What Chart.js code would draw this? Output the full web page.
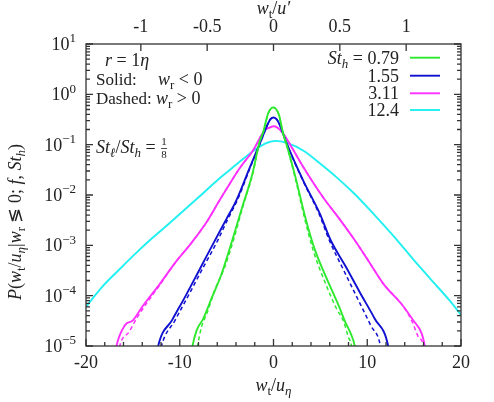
<!DOCTYPE html>
<html>
<head>
<meta charset="utf-8">
<script src="https://cdn.jsdelivr.net/npm/chart.js@4.4.1/dist/chart.umd.min.js"></script>
<style>
  html, body { margin: 0; padding: 0; background: #fff; }
  #wrap { width: 494px; height: 402px; }
</style>
</head>
<body>
<div id="wrap"><canvas id="pdfChart"></canvas></div>
<script>
// values
const stLabels = ['0.79', '1.55', '3.11', '12.4'];
const stColors = ['#2ee82e', '#1010d0', '#ff30ff', '#20f0f0'];

const greenSolidX = [-8.9, -8.64, -8.2, -7.5, -6.6, -5.6, -4.4, -3.3, -2.24, -1.5, -1.1, -0.58, -0.25, 0, 0.3, 0.6, 1.03, 1.4, 2.35, 3.4, 4.4, 5.75, 7.0, 7.6, 8.3, 8.67, 8.9];
const greenSolidP = [5e-6, 1e-5, 2.04e-5, 3.47e-5, 8.91e-5, 2.51e-4, 1.26e-3, 6.03e-3, 2.69e-2, 0.112, 0.178, 0.417, 0.525, 0.55, 0.501, 0.38, 0.166, 0.1, 0.0224, 3.55e-3, 8.32e-4, 2.04e-4, 6.03e-5, 3.16e-5, 1.66e-5, 1e-5, 5e-6];
const greenDashX = [-8.35, -8.1, -7.68, -7.1, -6.26, -5.2, -4.2, -3.25, -2.2, -1.48, -1.08, -0.57, -0.25, 0, 0.3, 0.6, 1.0, 1.38, 2.3, 3.3, 4.2, 5.4, 6.7, 7.5, 7.96, 8.32, 8.5];
const greenDashP = [5e-6, 1e-5, 2.4e-5, 4.47e-5, 1.29e-4, 3.72e-4, 1.41e-3, 6.03e-3, 2.69e-2, 0.112, 0.178, 0.417, 0.525, 0.55, 0.501, 0.38, 0.166, 0.1, 0.0224, 3.55e-3, 8.32e-4, 2.04e-4, 5.62e-5, 3.02e-5, 1.55e-5, 1e-5, 5e-6];

const blueSolidX = [-12.55, -12.3, -10.8, -9.3, -7.8, -6.3, -5.0, -3.95, -2.5, -1.46, -0.58, -0.3, 0, 0.3, 0.6, 1.42, 3.16, 4.94, 6.1, 7.7, 9.2, 10.8, 12.23, 12.45];
const blueSolidP = [5e-6, 1e-5, 3.31e-5, 1.05e-4, 3.55e-4, 1.2e-3, 3.39e-3, 7.94e-3, 3.63e-2, 0.105, 0.263, 0.324, 0.347, 0.324, 0.263, 0.105, 0.0195, 4.27e-3, 1.26e-3, 3.8e-4, 1.17e-4, 3.47e-5, 1e-5, 5e-6];
const blueDashX = [-12.25, -11.95, -10.5, -9.0, -7.5, -6.0, -4.85, -3.85, -2.45, -1.44, -0.58, -0.3, 0, 0.3, 0.6, 1.4, 3.12, 4.85, 5.95, 7.5, 9.0, 10.4, 11.4, 11.6];
const blueDashP = [5e-6, 1e-5, 3.24e-5, 1.07e-4, 3.63e-4, 1.2e-3, 3.39e-3, 7.94e-3, 3.63e-2, 0.105, 0.263, 0.324, 0.347, 0.324, 0.263, 0.105, 0.0195, 4.27e-3, 1.26e-3, 3.16e-4, 8.5e-5, 2.5e-5, 1e-5, 5e-6];

const magentaSolidX = [-17.0, -16.75, -15.86, -15.0, -14.0, -12.1, -10.5, -8.75, -7.0, -5.8, -4.85, -3.5, -2.17, -0.93, -0.4, 0, 0.4, 1.03, 2.0, 3.16, 5.3, 6.93, 8.67, 10.2, 11.7, 13.8, 14.9, 15.8, 16.14, 16.4];
const magentaSolidP = [5e-6, 1e-5, 2.57e-5, 3.24e-5, 6.03e-5, 1.74e-4, 4.47e-4, 1.12e-3, 3.16e-3, 7.59e-3, 1.48e-2, 3.63e-2, 7.76e-2, 0.195, 0.219, 0.232, 0.219, 0.166, 0.0851, 0.0363, 8.91e-3, 3.55e-3, 1.26e-3, 4.68e-4, 1.74e-4, 6.31e-5, 3.24e-5, 1.78e-5, 1e-5, 5e-6];
const magentaDashX = [-16.65, -16.4, -15.4, -14.5, -12.1, -10.5, -8.75, -7.0, -5.8, -4.85, -3.5, -2.17, -0.93, -0.4, 0, 0.4, 1.03, 2.0, 3.16, 5.3, 6.93, 8.67, 10.2, 11.7, 13.8, 14.8, 15.4, 16.0, 16.2];
const magentaDashP = [5e-6, 1e-5, 1.91e-5, 3.8e-5, 1.66e-4, 4.47e-4, 1.12e-3, 3.16e-3, 7.59e-3, 1.48e-2, 3.63e-2, 7.76e-2, 0.195, 0.219, 0.232, 0.219, 0.166, 0.0851, 0.0363, 8.91e-3, 3.55e-3, 1.26e-3, 4.68e-4, 1.74e-4, 6.31e-5, 3.02e-5, 1.58e-5, 1e-5, 5e-6];

const cyanX = [-20, -18.3, -16.5, -14.7, -12.9, -11.1, -9.4, -7.6, -5.9, -4.0, -2.2, -0.9, 0.2, 1.5, 3.2, 5.0, 6.8, 8.6, 10.3, 12.0, 13.2, 15.0, 16.8, 18.8, 20];
const cyanP = [6.03e-5, 1.48e-4, 3.24e-4, 6.92e-4, 1.41e-3, 2.75e-3, 5.25e-3, 1.05e-2, 2.04e-2, 3.98e-2, 7.41e-2, 0.105, 0.119, 0.107, 0.0759, 0.0417, 0.0219, 0.0107, 5.01e-3, 2.24e-3, 1.26e-3, 5.01e-4, 2.09e-4, 7.94e-5, 4.17e-5];

const xTicks = [-20, -10, 0, 10, 20];
const topTicks = [-1, -0.5, 0, 0.5, 1];
const yDecades = [-5, -4, -3, -2, -1, 0, 1];
const uPrimeOverUEta = 14.15;   // ratio between bottom and top axes

const FONT = '"Liberation Serif", "DejaVu Serif", serif';
const INK = '#222';

function pts(xs, ps) {
  return xs.map((x, i) => ({ x, y: ps[i] }));
}

function line(xs, ps, color, dashed) {
  return {
    data: pts(xs, ps),
    borderColor: color,
    borderWidth: dashed ? 1.5 : 1.9,
    borderDash: dashed ? [4, 3] : [],
    pointRadius: 0,
    fill: false,
    cubicInterpolationMode: 'monotone',
    clip: 0,
    xAxisID: 'x',
    yAxisID: 'y'
  };
}

// text with italic / subscript / superscript pieces
function rich(ctx, parts, x, y, align, size) {
  const items = parts.map(([t, s = '']) => {
    const small = s.includes('b') || s.includes('p');
    const fs = small ? Math.round(size * 0.72) : size;
    ctx.font = (s.includes('i') ? 'italic ' : '') + fs + 'px ' + FONT;
    return {
      t, font: ctx.font, w: ctx.measureText(t).width,
      dy: s.includes('b') ? size * 0.22 : s.includes('p') ? -size * 0.42 : 0
    };
  });
  const total = items.reduce((a, b) => a + b.w, 0);
  let cx = align === 'right' ? x - total : align === 'center' ? x - total / 2 : x;
  ctx.textAlign = 'left';
  ctx.textBaseline = 'alphabetic';
  items.forEach(it => {
    ctx.font = it.font;
    ctx.fillText(it.t, cx, y + it.dy);
    cx += it.w;
  });
  return total;
}

const decor = {
  id: 'decor',
  afterDraw(chart) {
    const { ctx, chartArea: a, scales } = chart;
    const xs = scales.x, ys = scales.y, xt = scales.xTop;
    ctx.save();
    ctx.fillStyle = INK;
    ctx.strokeStyle = '#333';
    ctx.lineWidth = 1.3;

    // frame
    ctx.strokeRect(a.left, a.top, a.right - a.left, a.bottom - a.top);

    // x ticks (bottom), inward
    ctx.beginPath();
    for (let v = xs.min; v <= xs.max; v += 2) {
      const px = xs.getPixelForValue(v);
      const len = xTicks.includes(v) ? 7 : 4;
      ctx.moveTo(px, a.bottom); ctx.lineTo(px, a.bottom - len);
    }
    topTicks.forEach(v => {
      const px = xt.getPixelForValue(v);
      ctx.moveTo(px, a.top); ctx.lineTo(px, a.top + 7);
    });
    // y ticks left and right
    yDecades.forEach(d => {
      for (let k = 1; k <= 9; k++) {
        const v = k * Math.pow(10, d);
        if (v < ys.min || v > ys.max) continue;
        const py = ys.getPixelForValue(v);
        const len = k === 1 ? 7 : 4;
        ctx.moveTo(a.left, py); ctx.lineTo(a.left + len, py);
        ctx.moveTo(a.right, py); ctx.lineTo(a.right - len, py);
      }
    });
    ctx.stroke();

    const fs = 18;
    // tick labels
    xTicks.forEach(v => rich(ctx, [[String(v)]], xs.getPixelForValue(v), a.bottom + 22, 'center', fs));
    topTicks.forEach(v => rich(ctx, [[String(v)]], xt.getPixelForValue(v), a.top - 12, 'center', fs));
    yDecades.forEach(d => {
      const py = ys.getPixelForValue(Math.pow(10, d));
      rich(ctx, [['10'], [String(d).replace('-', '\u2212'), 'p']], 76, py + 6, 'right', fs);
    });

    // axis titles
    rich(ctx, [['w', 'i'], ['t', 'b'], ['/'], ['u', 'i'], ['\u03b7', 'ib']], xs.getPixelForValue(0), 391, 'center', fs);
    rich(ctx, [['w', 'i'], ['t', 'b'], ['/'], ['u\u2032', 'i']], xs.getPixelForValue(0), 14, 'center', fs);
    ctx.save();
    ctx.translate(21, 222);
    ctx.rotate(-Math.PI / 2);
    rich(ctx, [['P', 'i'], ['('], ['w', 'i'], ['t', 'b'], ['/'], ['u', 'i'], ['\u03b7', 'ib'], ['|'], ['w', 'i'], ['r', 'b'],
      [' \u2276 0; '], ['f', 'i'], [', '], ['St', 'i'], ['h', 'ib'], [')']], 0, 0, 'center', fs);
    ctx.restore();

    // legend
    const rows = [57.7, 75.7, 93.3, 110];
    stLabels.forEach((lab, i) => {
      const parts = i === 0 ? [['St', 'i'], ['h', 'ib'], [' = ' + lab]] : [[lab]];
      rich(ctx, parts, 399, rows[i] + 6, 'right', fs);
      ctx.strokeStyle = stColors[i];
      ctx.lineWidth = 1.9;
      ctx.beginPath();
      ctx.moveTo(410, rows[i]); ctx.lineTo(440, rows[i]);
      ctx.stroke();
    });

    // annotations
    rich(ctx, [['r', 'i'], [' = 1'], ['\u03b7', 'i']], 105, 66, 'left', fs);
    rich(ctx, [['Solid:']], 96, 85, 'left', 17);
    rich(ctx, [['w', 'i'], ['r', 'b'], [' < 0']], 158, 85, 'left', fs);
    rich(ctx, [['Dashed:']], 96, 104, 'left', 17);
    rich(ctx, [['w', 'i'], ['r', 'b'], [' > 0']], 156, 104, 'left', fs);
    const w = rich(ctx, [['St', 'i'], ['\u2113', 'ib'], ['/'], ['St', 'i'], ['h', 'ib'], [' = ']], 96, 153, 'left', fs);
    const fx = 96 + w + 4;
    ctx.font = '11px ' + FONT;
    ctx.textAlign = 'center';
    ctx.fillText('1', fx, 145);
    ctx.fillText('8', fx, 158);
    ctx.strokeStyle = INK;
    ctx.lineWidth = 0.8;
    ctx.beginPath();
    ctx.moveTo(fx - 3, 148.5); ctx.lineTo(fx + 3, 148.5);
    ctx.stroke();

    ctx.restore();
  }
};

new Chart(document.getElementById('pdfChart'), {
  type: 'line',
  data: {
    datasets: [
      line(greenSolidX, greenSolidP, stColors[0], false),
      line(greenDashX, greenDashP, stColors[0], true),
      line(blueSolidX, blueSolidP, stColors[1], false),
      line(blueDashX, blueDashP, stColors[1], true),
      line(magentaSolidX, magentaSolidP, stColors[2], false),
      line(magentaDashX, magentaDashP, stColors[2], true),
      line(cyanX, cyanP, stColors[3], false)
    ]
  },
  options: {
    responsive: true,
    maintainAspectRatio: false,
    animation: false,
    devicePixelRatio: 1,
    layout: { padding: { left: 86, right: 33, top: 44, bottom: 56 } },
    scales: {
      x: { type: 'linear', min: -20, max: 20, display: false },
      xTop: { type: 'linear', position: 'top', min: -20 / uPrimeOverUEta, max: 20 / uPrimeOverUEta, display: false },
      y: { type: 'logarithmic', min: 1e-5, max: 10, display: false }
    },
    plugins: {
      legend: { display: false },
      tooltip: { enabled: false }
    }
  },
  plugins: [decor]
});
</script>
</body>
</html>
